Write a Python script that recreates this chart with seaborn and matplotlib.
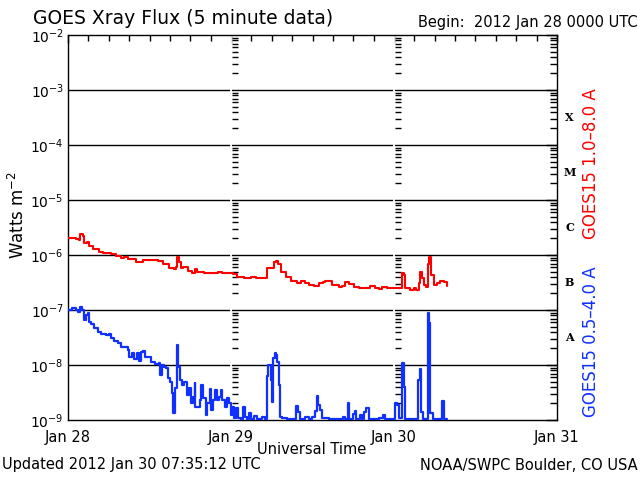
import matplotlib
matplotlib.use("Agg")
import matplotlib.pyplot as plt
import matplotlib.ticker as mticker
from matplotlib.transforms import blended_transform_factory
import numpy as np
import seaborn as sns

sns.set_theme(style="white")
plt.rcParams["font.family"] = ["DejaVu Sans"]

# hours after 2012 Jan 28 0000 UTC, flux in W m^-2
long_hours = [0.0, 0.59, 1.18, 1.58, 1.77, 2.16, 2.40, 2.75, 3.05, 3.64, 4.61, 5.11, 5.85, 6.33,
              7.07, 7.80, 8.29, 8.79, 9.53, 10.01, 10.50, 11.09, 12.47, 13.21, 13.94, 14.92,
              15.65, 15.90, 16.09, 16.30, 16.64, 16.98, 17.62, 18.26, 18.74, 19.04, 20.02, 21.50,
              22.09, 22.72, 23.71, 24.34, 24.93, 25.91, 26.90, 27.64, 28.61, 29.11, 29.35, 29.93,
              30.33, 30.58, 30.92, 31.41, 32.05, 32.79, 33.76, 34.35, 34.90, 35.48, 36.22, 36.96,
              37.59, 37.89, 38.87, 39.86, 40.34, 40.74, 41.33, 42.07, 42.80, 43.77, 44.51, 45.25,
              45.84, 46.23, 46.97, 47.96, 48.69, 49.18, 49.43, 49.66, 50.40, 50.90, 51.24, 51.64,
              51.87, 52.12, 52.37, 52.71, 53.01, 53.20, 53.40, 53.85, 54.33, 54.82, 55.32, 55.81]
long_flux = [2.0e-6, 2.07e-6, 1.95e-6, 1.87e-6, 2.38e-6, 2.24e-6, 1.65e-6, 1.74e-6, 1.48e-6, 1.29e-6,
             1.15e-6, 1.07e-6, 1.10e-6, 1.06e-6, 9.6e-7, 8.9e-7, 9.3e-7, 8.4e-7, 8.4e-7, 7.6e-7,
             7.6e-7, 8.2e-7, 8.1e-7, 7.8e-7, 6.8e-7, 5.9e-7, 5.6e-7, 6.1e-7, 9.3e-7, 7.6e-7,
             5.9e-7, 6.1e-7, 5.1e-7, 4.8e-7, 5.5e-7, 5.0e-7, 4.8e-7, 4.65e-7, 5.0e-7, 4.7e-7,
             4.65e-7, 4.45e-7, 4.03e-7, 3.86e-7, 4.03e-7, 3.86e-7, 3.76e-7, 3.86e-7, 5.7e-7, 5.7e-7,
             7.4e-7, 7.8e-7, 6.8e-7, 5.0e-7, 4.03e-7, 3.37e-7, 3.13e-7, 3.37e-7, 3.06e-7, 2.85e-7,
             2.77e-7, 3.06e-7, 3.27e-7, 3.41e-7, 2.85e-7, 2.65e-7, 2.73e-7, 3.27e-7, 2.97e-7, 2.65e-7,
             2.54e-7, 2.54e-7, 2.77e-7, 2.48e-7, 2.38e-7, 2.65e-7, 2.48e-7, 2.54e-7, 2.48e-7, 4.65e-7,
             4.33e-7, 2.48e-7, 2.31e-7, 2.54e-7, 2.31e-7, 3.06e-7, 4.84e-7, 3.76e-7, 2.85e-7, 2.65e-7,
             6.8e-7, 9.3e-7, 4.33e-7, 2.85e-7, 3.06e-7, 3.37e-7, 3.19e-7, 2.77e-7]

short_hours = [0.0, 0.59, 1.18, 1.43, 1.77, 2.06, 2.40, 2.65, 2.90, 3.05, 3.39, 3.87, 4.37, 4.86,
               5.60, 5.99, 6.33, 6.82, 7.32, 7.80, 8.29, 8.79, 9.03, 9.38, 9.76, 10.12, 10.41,
               10.75, 11.09, 11.38, 11.74, 12.22, 12.85, 13.35, 13.55, 13.84, 14.18, 14.43, 14.68,
               15.02, 15.31, 15.50, 15.80, 16.01, 16.24, 16.49, 16.79, 17.12, 17.48, 17.86, 18.11,
               18.45, 18.66, 18.74, 19.14, 19.44, 19.63, 19.92, 20.27, 20.51, 20.91, 21.10, 21.39,
               21.64, 21.89, 22.23, 22.48, 22.72, 23.07, 23.46, 23.71, 23.96, 24.19, 24.44, 24.69,
               25.03, 25.43, 25.77, 26.02, 26.40, 26.65, 26.99, 27.39, 27.87, 28.61, 29.01, 29.26,
               29.45, 29.64, 29.85, 30.04, 30.23, 30.43, 30.63, 30.82, 31.02, 31.21, 31.55, 32.29,
               33.28, 33.61, 33.87, 34.16, 34.90, 35.48, 35.97, 36.32, 36.62, 36.81, 37.11, 37.44,
               38.39, 39.36, 40.45, 40.83, 41.23, 41.42, 41.96, 42.21, 42.45, 43.04, 43.29, 43.63,
               43.92, 44.28, 45.75, 46.34, 46.72, 47.70, 48.19, 48.44, 48.69, 48.99, 49.22, 49.43,
               49.58, 51.14, 51.53, 51.78, 51.98, 52.23, 52.71, 52.96, 53.15, 53.35, 53.70, 54.33,
               55.07, 55.32, 55.81]
short_flux = [1.0e-7, 1.07e-7, 1.0e-7, 9.3e-8, 1.15e-7, 1.0e-7, 6.6e-8, 8.1e-8, 8.9e-8, 6.1e-8,
              5.6e-8, 4.65e-8, 4.03e-8, 3.61e-8, 3.51e-8, 3.61e-8, 3.06e-8, 2.77e-8, 2.48e-8, 2.15e-8,
              2.15e-8, 1.87e-8, 1.42e-8, 1.67e-8, 1.27e-8, 1.63e-8, 1.20e-8, 1.75e-8, 1.82e-8, 1.42e-8,
              1.38e-8, 1.15e-8, 1.04e-8, 1.10e-8, 6.6e-9, 1.0e-8, 9.3e-9, 8.7e-9, 5.7e-9, 5.0e-9,
              3.06e-9, 1.32e-9, 3.76e-9, 2.31e-8, 9.3e-9, 5.3e-9, 4.33e-9, 5.0e-9, 2.85e-9, 3.76e-9,
              2.01e-9, 2.65e-9, 4.65e-9, 1.75e-9, 1.75e-9, 2.31e-9, 4.33e-9, 2.48e-9, 1.23e-9, 2.01e-9,
              3.61e-9, 1.52e-9, 2.31e-9, 3.51e-9, 2.31e-9, 2.65e-9, 3.51e-9, 2.31e-9, 1.75e-9, 2.48e-9,
              2.01e-9, 1.23e-9, 1.75e-9, 1.07e-9, 1.63e-9, 1.07e-9, 1.03e-9, 1.70e-9, 1.15e-9, 1.03e-9,
              1.32e-9, 1.03e-9, 1.18e-9, 1.03e-9, 1.12e-9, 1.03e-9, 6.3e-9, 1.0e-8, 1.0e-8, 5.3e-9,
              2.15e-9, 1.32e-8, 1.63e-8, 1.52e-8, 1.15e-8, 4.33e-9, 1.15e-9, 1.07e-9, 1.03e-9, 1.03e-9,
              1.80e-9, 1.42e-9, 1.03e-9, 1.15e-9, 1.03e-9, 1.12e-9, 1.48e-9, 2.77e-9, 1.87e-9, 1.52e-9,
              1.07e-9, 1.03e-9, 1.03e-9, 1.12e-9, 1.03e-9, 2.01e-9, 1.03e-9, 1.29e-9, 1.46e-9, 1.03e-9,
              1.22e-9, 1.03e-9, 1.40e-9, 1.63e-9, 1.03e-9, 1.07e-9, 1.22e-9, 1.03e-9, 1.03e-9, 2.07e-9,
              1.87e-9, 1.07e-9, 1.07e-9, 1.07e-8, 4.03e-9, 1.03e-9, 1.03e-9, 5.3e-9, 8.4e-9, 1.42e-9,
              1.03e-9, 1.03e-9, 8.7e-8, 5.7e-8, 1.32e-9, 1.03e-9, 1.03e-9, 2.21e-9, 1.03e-9, 1.03e-9]

day_ticks = [0, 24, 48, 72]
day_labels = ["Jan 28", "Jan 29", "Jan 30", "Jan 31"]
class_letters = ["X", "M", "C", "B", "A"]
class_lower = [1e-4, 1e-5, 1e-6, 1e-7, 1e-8]

red = "#ff0000"
blue = "#1030ff"

fig = plt.figure(figsize=(6.4, 4.8), dpi=100)
ax = fig.add_axes([68 / 640, 60 / 480, 489 / 640, 385 / 480])

# decade grid lines
for k in range(-8, -2):
    ax.axhline(10.0 ** k, color="black", lw=1.0, zorder=1)

# day boundaries: white gap with minor tick dashes
minor_vals = [m * 10.0 ** k for k in range(-9, -2) for m in range(2, 10)]
for d in day_ticks[1:3]:
    ax.axvline(d, color="white", lw=1.3, zorder=1.5)
    ax.plot([d + 0.15] * len(minor_vals), minor_vals, ls="none", marker=1,
            ms=4.5, mew=1.0, color="black", zorder=2)

sns.lineplot(x=long_hours, y=long_flux, drawstyle="steps-post", color=red,
             lw=1.5, estimator=None, ax=ax, zorder=3)
sns.lineplot(x=short_hours, y=short_flux, drawstyle="steps-post", color=blue,
             lw=1.6, estimator=None, ax=ax, zorder=3)

ax.set_yscale("log")
ax.set_ylim(1e-9, 1e-2)
ax.set_xlim(0, 72)
ax.set_xticks(day_ticks)
ax.set_xticklabels(day_labels)
ax.xaxis.set_minor_locator(mticker.MultipleLocator(3))
ax.yaxis.set_minor_locator(mticker.LogLocator(base=10, subs=np.arange(2, 10), numticks=20))
ax.yaxis.set_minor_formatter(mticker.NullFormatter())
ax.tick_params(which="both", direction="in", top=True, right=True, colors="black",
               width=1.0)
ax.tick_params(axis="y", which="major", length=8, pad=3, labelsize=10)
ax.tick_params(axis="y", which="minor", length=5)
ax.tick_params(axis="x", which="major", length=6, pad=7, labelsize=10.5)
ax.tick_params(axis="x", which="minor", length=4)
for s in ax.spines.values():
    s.set_color("black")
    s.set_linewidth(1.0)
ax.set_xlabel("")
ax.set_ylabel("")

# flare class letters on the right
tr = blended_transform_factory(ax.transAxes, ax.transData)
for letter, lo in zip(class_letters, class_lower):
    ax.text(1.026, lo * np.sqrt(10), letter, transform=tr, ha="center", va="center",
            fontsize=8, fontweight="bold", family="DejaVu Serif", color="black")

ax.text(1.07, 0.667, "GOES15 1.0\u20138.0 A", transform=ax.transAxes, rotation=90,
        ha="center", va="center", color=red, fontsize=12)
ax.text(1.07, 0.203, "GOES15 0.5\u20134.0 A", transform=ax.transAxes, rotation=90,
        ha="center", va="center", color=blue, fontsize=12)

fig.text(33 / 640, 1 - 18 / 480, "GOES Xray Flux (5 minute data)", ha="left", va="center",
         fontsize=13.5, color="black")
fig.text(638 / 640, 1 - 22 / 480, "Begin:  2012 Jan 28 0000 UTC", ha="right", va="center",
         fontsize=10.5, color="black")
fig.text(18 / 640, 1 - 215 / 480, "Watts m$^{-2}$", rotation=90, ha="center", va="center",
         fontsize=12, color="black")
fig.text(312 / 640, 1 - 450 / 480, "Universal Time", ha="center", va="center",
         fontsize=10.5, color="black")
fig.text(2 / 640, 1 - 465 / 480, "Updated 2012 Jan 30 07:35:12 UTC", ha="left", va="center",
         fontsize=10.5, color="black")
fig.text(638 / 640, 1 - 465 / 480, "NOAA/SWPC Boulder, CO USA", ha="right", va="center",
         fontsize=10.5, color="black")

fig.savefig("out.png", dpi=100, facecolor="white")
